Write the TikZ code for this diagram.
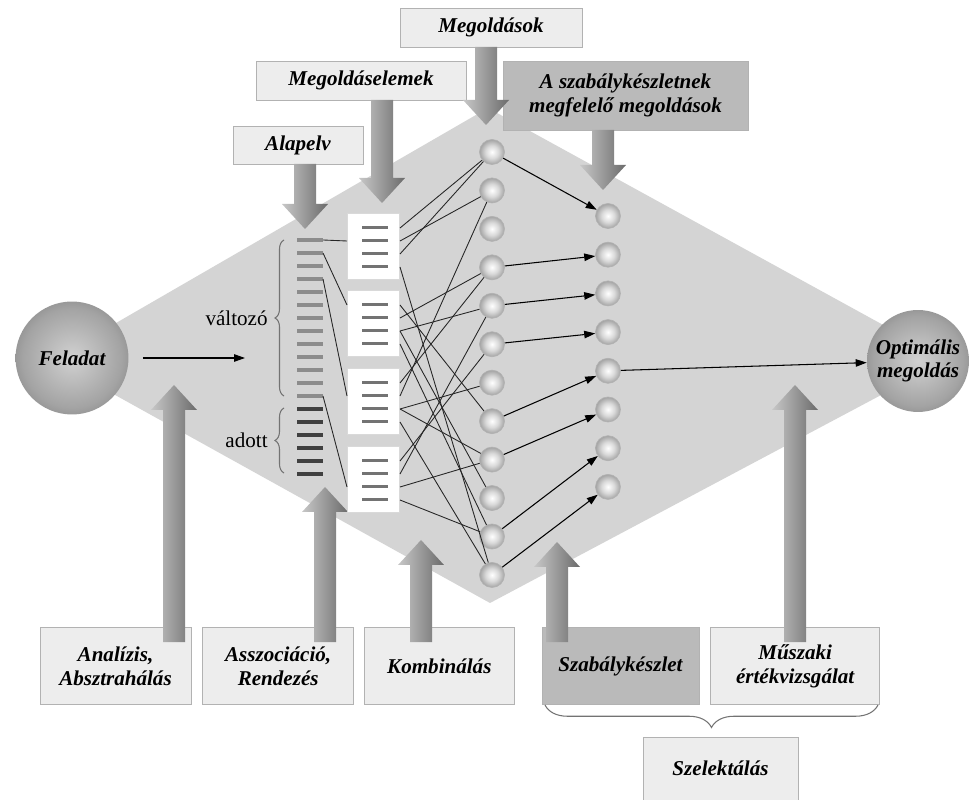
\documentclass[tikz,border=0pt]{standalone}
\usepackage{fontspec}
\setmainfont{Liberation Serif}
\usetikzlibrary{arrows.meta,positioning,decorations.pathreplacing}

\pgfdeclareradialshading{bigball}{\pgfpoint{0bp}{0bp}}{color(0bp)=(black!18); color(22bp)=(black!36); color(50bp)=(black!74)}
\pgfdeclareradialshading{smallball}{\pgfpoint{0bp}{0bp}}{color(0bp)=(white); color(13bp)=(black!15); color(32bp)=(black!48); color(45bp)=(black!58); color(50bp)=(black!40)}

\begin{document}
\begin{tikzpicture}[
    x=0.02cm, y=-0.02cm,
    font=\fontsize{12}{13.5}\selectfont,
    lbl/.style={draw=black!30, fill=black!7, align=center, inner sep=0pt,
                font=\fontsize{12}{13.5}\selectfont\bfseries\itshape},
    dlbl/.style={lbl, fill=black!27},
    low/.style={lbl, minimum height=1.54cm},
    blk/.style={left color=black!22, right color=black!58},
    sphere/.style={circle, shading=bigball, minimum size=2.26cm, inner sep=0pt, align=center,
                   font=\fontsize{12}{13.5}\selectfont\bfseries\itshape},
    ball/.style={circle, shading=smallball, draw=black!30, minimum size=0.5cm, inner sep=0pt},
    elem/.style={fill=white, draw=black!15, minimum width=1.04cm, minimum height=1.32cm, inner sep=0pt},
    eline/.style={black!55, line width=0.06cm},
    wire/.style={black!85, line width=0.5pt},
    arr/.style={-{Triangle[length=2.2mm,width=1.5mm]}, line width=0.6pt},
    brc/.style={decorate, decoration={brace, amplitude=#1}, draw=black!55, line width=0.6pt}
  ]
    \useasboundingbox (0,0) rectangle (971,800);
    \fill[black!17] (52,360) -- (488,108) -- (947,360) -- (490,603) -- cycle;

    \node[lbl, minimum width=2.6cm, minimum height=0.76cm] (alapelv) at (298,145) {Alapelv};
    \node[lbl, minimum width=4.2cm, minimum height=0.78cm] (elemek) at (361,80.5) {Megoldáselemek};
    \node[lbl, minimum width=3.64cm, minimum height=0.78cm] (megold) at (491,27.5) {Megoldások};
    \node[dlbl, minimum width=4.9cm, minimum height=1.38cm] (szabmeg) at (625.5,95.5)
         {A szabálykészletnek\\megfelelő megoldások};

    \node[low, minimum width=3.02cm] (analizis) at (115.5,666) {Analízis,\\Absztrahálás};
    \node[low, minimum width=3.02cm, right=0.22cm of analizis] (asszoc) {Asszociáció,\\Rendezés};
    \node[low, minimum width=3.0cm, right=0.2cm of asszoc] (kombi) {Kombinálás};
    \node[low, dlbl, minimum width=3.14cm, right=0.54cm of kombi] (szabaly) {Szabálykészlet};
    \node[low, minimum width=3.38cm, right=0.22cm of szabaly] (muszaki) {Műszaki\\értékvizsgálat};
    \node[lbl, minimum width=3.1cm, minimum height=1.26cm] (szelekt) at (720.5,768.5) {Szelektálás};

    \foreach \x/\ya/\yb in {305/164/229, 382/100/203, 486/47/125, 603/130/190}
      \path[blk] ({\x-11},\ya) -- ({\x-11},{\yb-25}) -- ({\x-23},{\yb-25}) -- (\x,\yb)
                 -- ({\x+23},{\yb-25}) -- ({\x+11},{\yb-25}) -- ({\x+11},\ya) -- cycle;
    \foreach \x/\yb in {174/385, 325/487, 421/540, 557/542, 795/385}
      \path[blk] ({\x-11},642) -- ({\x-11},{\yb+25}) -- ({\x-23},{\yb+25}) -- (\x,\yb)
                 -- ({\x+23},{\yb+25}) -- ({\x+11},{\yb+25}) -- ({\x+11},642) -- cycle;

    \node[sphere] (feladat) at (72,358) {Feladat};
    \node[sphere, minimum size=2.04cm] (opt) at (918,361) {Optimális\\megoldás};
    \coordinate (inlet) at (245,358);
    \draw[arr] ([xshift=0.28cm]feladat.east) -- (inlet);

    \foreach \i in {0,...,18} {
      \coordinate (bar\i) at (323,{240+13*\i});
    }
    \foreach \i in {0,...,12}
      \draw[black!45, line width=0.08cm] (297,{240+13*\i}) -- (bar\i);
    \foreach \i in {13,...,18}
      \draw[black!75, line width=0.08cm] (297,{240+13*\i}) -- (bar\i);
    \draw[brc=0.18cm] (284,396) -- (284,240) node[midway, left=0.2cm] (valt) {változó};
    \draw[brc=0.18cm] (284,473) -- (284,408) node[midway, left=0.2cm] (adott) {adott};

    \foreach \k/\t in {1/213, 2/290, 3/368, 4/446} {
      \node[elem, anchor=north west] (b\k) at (347,\t) {};
      \foreach \j in {1,...,4} {
        \draw[eline] (362,{\t+15+13*(\j-1)}) -- (388,{\t+15+13*(\j-1)});
        \coordinate (l\k-\j) at (347,{\t+15+13*(\j-1)});
        \coordinate (r\k-\j) at (400,{\t+15+13*(\j-1)});
      }
    }
    \foreach \a/\b in {bar0/l1-2, bar1/l2-1, bar3/l3-2, bar12/l4-3}
      \draw[wire] (\a) -- (\b);

    \foreach \i in {1,...,12}
      \node[ball] (c\i) at (492,{152+38.45*(\i-1)}) {};
    \foreach \j in {1,...,8}
      \node[ball] (d\j) at (608,{216+38.7*(\j-1)}) {};

    \foreach \a/\b in {1-1/1, 1-2/2, 1-3/1, 1-4/12, 2-1/8, 2-2/4, 2-3/5, 2-3/10, 2-4/11,
                       3-1/4, 3-2/2, 3-3/7, 3-4/12, 3-3/9, 4-1/6, 4-2/5, 4-3/9, 4-4/11}
      \draw[wire] (r\a) -- (c\b);
    \foreach \a/\b in {1/1, 4/2, 5/3, 6/4, 8/5, 9/6, 11/7, 12/8}
      \draw[arr] (c\a) -- (d\b);
    \draw[arr] (d5) -- (opt);

    \draw[brc=0.45cm] (878,705) -- (545,705);
  \end{tikzpicture}
\end{document}
